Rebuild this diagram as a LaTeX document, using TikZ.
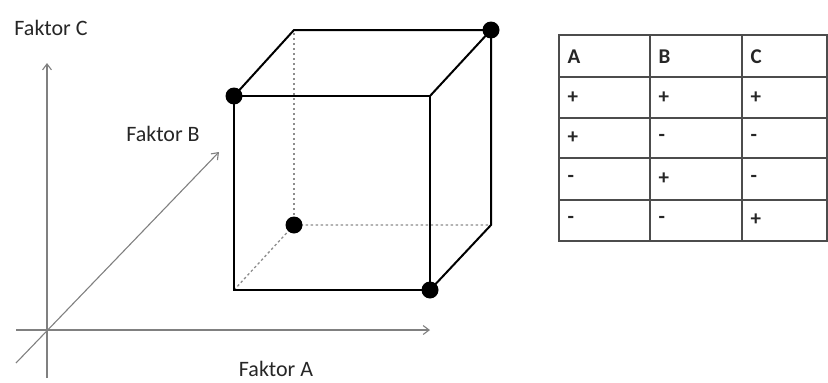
\documentclass[tikz,border=0pt]{standalone}
\usepackage{fontspec}
\setmainfont{Carlito}
\usetikzlibrary{arrows.meta}
\begin{document}
\begin{tikzpicture}[x=1pt,y=-1pt,
  axis/.style={draw=black!50,line width=1.1pt,-{Straight Barb[length=6pt,width=9pt]}},
  edge/.style={draw=black,line width=2pt},
  hidden/.style={draw=black!45,line width=1.3pt,dash pattern=on 2.5pt off 2.5pt},
  vertex/.style={circle,fill=black,inner sep=0pt,minimum size=17pt},
  lbl/.style={font=\fontsize{22}{24}\selectfont,text=black!85},
  cell/.style={font=\fontsize{21}{24}\selectfont\bfseries,text=black!85,anchor=west},
  grid/.style={draw=black!70,line width=1.4pt}]
\useasboundingbox (0,0) rectangle (828,383);
% axes
\coordinate (o) at (47,330);
\coordinate (xs) at (16,330);
\coordinate (xe) at (430,330);
\coordinate (ys) at (47,378);
\coordinate (ye) at (47,63);
\coordinate (zs) at (16,363);
\coordinate (ze) at (219,152);
\draw[axis] (xs) -- (xe);
\draw[axis] (ys) -- (ye);
\draw[axis] (zs) -- (ze);
\node[lbl] (la) at (276,369) {Faktor A};
\node[lbl] (lb) at (163,134) {Faktor B};
\node[lbl] (lc) at (51,28) {Faktor C};
% cube
\coordinate (f1) at (234,290);
\coordinate (f2) at (430,290);
\coordinate (f3) at (430,96);
\coordinate (f4) at (234,96);
\coordinate (b1) at (294,225);
\coordinate (b2) at (491,225);
\coordinate (b3) at (491,30);
\coordinate (b4) at (294,30);
\draw[hidden] (f1) -- (b1) -- (b2);
\draw[hidden] (b1) -- (b4);
\draw[edge,line join=miter] (f1) -- (f2) -- (f3) -- (f4) -- cycle;
\draw[edge,line join=miter] (f4) -- (b4) -- (b3) -- (f3);
\draw[edge,line join=miter] (b3) -- (b2) -- (f2);
\node[vertex] (v1) at (f4) {};
\node[vertex] (v2) at (b3) {};
\node[vertex] (v3) at (b1) {};
\node[vertex] (v4) at (f2) {};
% table
\draw[grid] (559,35) rectangle (827,241);
\foreach \y in {77,118,158,200} \draw[grid] (559,\y) -- (827,\y);
\foreach \x in {650,742} \draw[grid] (\x,35) -- (\x,241);
\node[cell] (h1) at (564,57) {A};
\node[cell] (h2) at (655,57) {B};
\node[cell] (h3) at (747,57) {C};
\node[cell] (r11) at (564,98) {+};
\node[cell] (r12) at (655,98) {+};
\node[cell] (r13) at (747,98) {+};
\node[cell] (r21) at (564,138) {+};
\node[cell] (r22) at (655,138) {-};
\node[cell] (r23) at (747,138) {-};
\node[cell] (r31) at (564,179) {-};
\node[cell] (r32) at (655,179) {+};
\node[cell] (r33) at (747,179) {-};
\node[cell] (r41) at (564,220) {-};
\node[cell] (r42) at (655,220) {-};
\node[cell] (r43) at (747,220) {+};
\end{tikzpicture}
\end{document}
